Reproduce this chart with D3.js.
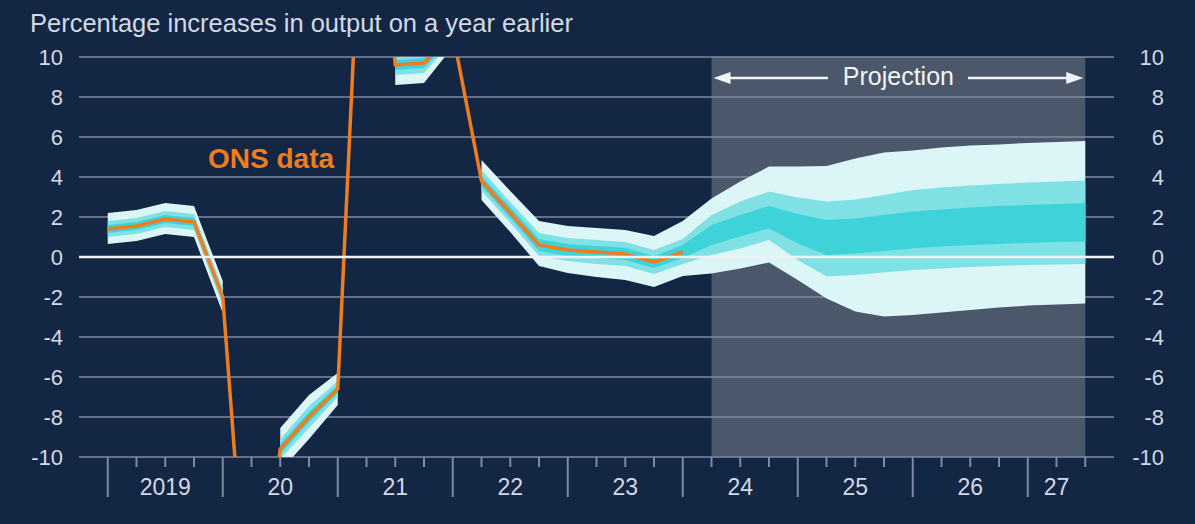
<!DOCTYPE html>
<html>
<head>
<meta charset="utf-8">
<script src="https://cdn.jsdelivr.net/npm/d3@7"></script>
<style>
  body { margin: 0; background: #132745; }
  text { font-family: "Liberation Sans", Arial, sans-serif; }
</style>
</head>
<body>
<div id="chart"></div>
<script>
// Quarters on the x axis
const quarters = ["2019 Q1","2019 Q2","2019 Q3","2019 Q4","2020 Q1","2020 Q2","2020 Q3","2020 Q4",
  "2021 Q1","2021 Q2","2021 Q3","2021 Q4","2022 Q1","2022 Q2","2022 Q3","2022 Q4",
  "2023 Q1","2023 Q2","2023 Q3","2023 Q4","2024 Q1","2024 Q2","2024 Q3","2024 Q4",
  "2025 Q1","2025 Q2","2025 Q3","2025 Q4","2026 Q1","2026 Q2","2026 Q3","2026 Q4",
  "2027 Q1","2027 Q2","2027 Q3"];
const yearLabels = ["2019","20","21","22","23","24","25","26","27"];
const yTicks = [-10,-8,-6,-4,-2,0,2,4,6,8,10];

// ONS data (orange line), 2019 Q1 to 2024 Q1
const onsData = [1.4, 1.55, 1.9, 1.75, -2.0, -21.0, -9.6, -8.0, -6.6, 24.0, 9.6, 9.7, 11.2,
  3.8, 2.2, 0.6, 0.35, 0.25, 0.15, -0.25, 0.25];

// Fan bands (outer / middle / inner), null where no fan is drawn
const fanLo90 = [0.65, 0.8, 1.15, 1.0, -2.8, null, -10.7, -9.1, -7.4, null, 8.6, 8.7, 10.5,
  2.85, 1.25, -0.45, -0.8, -1.0, -1.15, -1.5, -0.95,
  -0.82, -0.57, -0.28, -1.15, -2.07, -2.73, -2.98, -2.9, -2.78, -2.65, -2.53, -2.43, -2.37, -2.32];
const fanLo60 = [1.0, 1.15, 1.5, 1.35, -2.45, null, -10.1, -8.55, -7.0, null, 9.1, 9.2, 10.8,
  3.3, 1.7, 0.05, -0.2, -0.35, -0.45, -0.85, -0.35,
  0.1, 0.43, 0.85, -0.15, -0.98, -0.9, -0.78, -0.65, -0.57, -0.5, -0.45, -0.4, -0.38, -0.35];
const fanLo30 = [1.2, 1.35, 1.7, 1.55, -2.2, null, -9.85, -8.25, -6.8, null, 9.35, 9.45, 11.0,
  3.55, 1.95, 0.3, 0.05, -0.05, -0.15, -0.55, -0.05,
  0.6, 1.02, 1.43, 0.68, 0.1, 0.18, 0.3, 0.43, 0.52, 0.6, 0.65, 0.7, 0.75, 0.77];
const fanHi30 = [1.6, 1.75, 2.1, 1.95, -1.8, null, -9.35, -7.75, -6.4, null, 9.85, 9.95, 11.4,
  4.05, 2.5, 0.9, 0.65, 0.55, 0.45, 0.05, 0.6,
  1.6, 2.1, 2.55, 2.15, 1.85, 1.93, 2.1, 2.27, 2.38, 2.48, 2.55, 2.6, 2.65, 2.7];
const fanHi60 = [1.8, 1.95, 2.3, 2.15, -1.55, null, -9.1, -7.45, -6.2, null, 10.1, 10.2, 11.6,
  4.35, 2.75, 1.2, 0.95, 0.85, 0.75, 0.35, 0.9,
  2.1, 2.77, 3.27, 2.98, 2.77, 2.88, 3.1, 3.35, 3.47, 3.57, 3.65, 3.73, 3.78, 3.82];
const fanHi90 = [2.2, 2.35, 2.7, 2.55, -1.2, null, -8.55, -6.9, -5.8, null, 10.6, 10.7, 12.0,
  4.85, 3.3, 1.8, 1.55, 1.45, 1.35, 1.05, 1.8,
  2.93, 3.77, 4.52, 4.52, 4.55, 4.93, 5.23, 5.33, 5.47, 5.58, 5.63, 5.7, 5.75, 5.8];
// Fan is drawn in separate pieces (first and last quarter of each piece)
const fanSegments = [["2019 Q1","2020 Q1"],["2020 Q3","2021 Q1"],["2021 Q3","2022 Q1"],["2022 Q2","2027 Q3"]];
const projectionStart = "2024 Q2";

const width = 1195, height = 524;
const svg = d3.select("#chart").append("svg")
  .attr("width", width).attr("height", height);

svg.append("rect").attr("width", width).attr("height", height).attr("fill", "#132745");

// x: quarter index, one step of padding on the left and right
const x = d3.scaleLinear().domain([-1, quarters.length]).range([79, 1114]);
const y = d3.scaleLinear().domain([-10, 10]).range([457, 57]);
const qi = q => quarters.indexOf(q);

const gridCol = "#7d8aa1";
const labelCol = "#d3d9e2";

// Projection shading
svg.append("rect")
  .attr("x", x(qi(projectionStart)))
  .attr("y", y(10))
  .attr("width", x(quarters.length - 1) - x(qi(projectionStart)))
  .attr("height", y(-10) - y(10))
  .attr("fill", "#4b576a");

// Gridlines
svg.append("g").selectAll("line")
  .data(yTicks.filter(d => d !== 0))
  .join("line")
  .attr("x1", x(-1)).attr("x2", x(quarters.length))
  .attr("y1", d => y(d)).attr("y2", d => y(d))
  .attr("stroke", gridCol).attr("stroke-opacity", 0.75).attr("stroke-width", 2);

// Y labels left and right
svg.append("g").selectAll("text")
  .data(yTicks).join("text")
  .attr("x", 63).attr("y", d => y(d)).attr("dy", "0.36em")
  .attr("text-anchor", "end").attr("font-size", 22).attr("fill", labelCol)
  .text(d => d);
svg.append("g").selectAll("text")
  .data(yTicks).join("text")
  .attr("x", 1164).attr("y", d => y(d)).attr("dy", "0.36em")
  .attr("text-anchor", "end").attr("font-size", 22).attr("fill", labelCol)
  .text(d => d);

// X ticks: long at each year start, short at other quarters
svg.append("g").selectAll("line")
  .data(quarters).join("line")
  .attr("x1", (d, i) => x(i)).attr("x2", (d, i) => x(i))
  .attr("y1", y(-10))
  .attr("y2", d => d.endsWith("Q1") ? y(-10) + 40 : y(-10) + 10)
  .attr("stroke", gridCol).attr("stroke-width", 2);

// Year labels centred on each year's span
const yearStarts = quarters.map((q, i) => q.endsWith("Q1") ? i : -1).filter(i => i >= 0);
svg.append("g").selectAll("text")
  .data(yearLabels).join("text")
  .attr("x", (d, k) => {
    const a = yearStarts[k];
    const b = k + 1 < yearStarts.length ? yearStarts[k + 1] : quarters.length - 1;
    return x((a + b) / 2);
  })
  .attr("y", 495)
  .attr("text-anchor", "middle").attr("font-size", 23).attr("fill", labelCol)
  .text(d => d);

// Clip for data marks
svg.append("clipPath").attr("id", "plot-clip")
  .append("rect")
  .attr("x", x(-1)).attr("y", y(10))
  .attr("width", x(quarters.length) - x(-1)).attr("height", y(-10) - y(10));

const plot = svg.append("g").attr("clip-path", "url(#plot-clip)");

// Fan chart bands
const bands = [
  { lo: fanLo90, hi: fanHi90, color: "#dcf6f7" },
  { lo: fanLo60, hi: fanHi60, color: "#80e1e5" },
  { lo: fanLo30, hi: fanHi30, color: "#3dd3d8" }
];
fanSegments.forEach(([s, e]) => {
  const idx = d3.range(qi(s), qi(e) + 1);
  bands.forEach(b => {
    plot.append("path")
      .datum(idx)
      .attr("fill", b.color)
      .attr("d", d3.area()
        .x(i => x(i))
        .y0(i => y(b.lo[i]))
        .y1(i => y(b.hi[i]))(idx));
  });
});

// Zero line
svg.append("line")
  .attr("x1", x(-1)).attr("x2", x(quarters.length))
  .attr("y1", y(0)).attr("y2", y(0))
  .attr("stroke", "#eef3f8").attr("stroke-width", 2.5);

// ONS data line
plot.append("path")
  .datum(onsData)
  .attr("fill", "none")
  .attr("stroke", "#ef7d1f")
  .attr("stroke-width", 3.5)
  .attr("stroke-linejoin", "round")
  .attr("d", d3.line().x((d, i) => x(i)).y(d => y(d)));

svg.append("text")
  .attr("x", 208).attr("y", 168)
  .attr("font-size", 28).attr("font-weight", "bold").attr("fill", "#ef7d1f")
  .text("ONS data");

// Title
svg.append("text")
  .attr("x", 30).attr("y", 32)
  .attr("font-size", 25.5).attr("fill", labelCol)
  .text("Percentage increases in output on a year earlier");

// Projection label with arrows
const arrowY = 78;
const pLeft = x(qi(projectionStart)) + 2;
const pRight = x(quarters.length - 1) - 2;
svg.append("text")
  .attr("x", (pLeft + pRight) / 2).attr("y", 85)
  .attr("text-anchor", "middle").attr("font-size", 25).attr("fill", "#f2f5f8")
  .text("Projection");
svg.append("line").attr("x1", pLeft + 12).attr("x2", 828)
  .attr("y1", arrowY).attr("y2", arrowY).attr("stroke", "#f2f5f8").attr("stroke-width", 2.5);
svg.append("line").attr("x1", 968).attr("x2", pRight - 12)
  .attr("y1", arrowY).attr("y2", arrowY).attr("stroke", "#f2f5f8").attr("stroke-width", 2.5);
svg.append("path")
  .attr("d", `M${pLeft},${arrowY} L${pLeft + 17},${arrowY - 6} L${pLeft + 17},${arrowY + 6} Z`)
  .attr("fill", "#f2f5f8");
svg.append("path")
  .attr("d", `M${pRight},${arrowY} L${pRight - 17},${arrowY - 6} L${pRight - 17},${arrowY + 6} Z`)
  .attr("fill", "#f2f5f8");
</script>
</body>
</html>
